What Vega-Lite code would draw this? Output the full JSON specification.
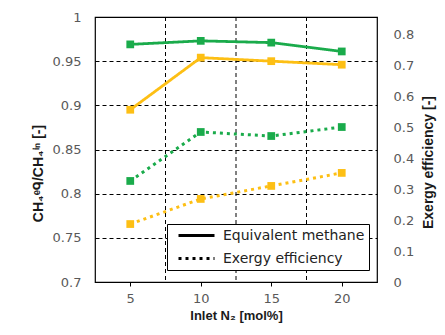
{
  "$schema": "https://vega.github.io/schema/vega-lite/v6.json",
  "width": 282,
  "height": 265,
  "autosize": {"type": "none"},
  "padding": {"left": 95, "top": 17, "right": 68, "bottom": 53},
  "background": "white",
  "config": {
    "font": "Liberation Sans",
    "view": {"stroke": "black", "strokeWidth": 1.2},
    "axis": {"labelFont": "DejaVu Sans", "titleFont": "Liberation Sans", "labelColor": "#595959", "labelFontSize": 13, "titleFontSize": 12, "titleFontWeight": "bold", "titleColor": "#1a1a1a", "domain": false}
  },
  "datasets": {
    "main": [
      {"N2": 5, "value": 0.969, "case": "Case 1", "type": "Equivalent methane"},
      {"N2": 10, "value": 0.973, "case": "Case 1", "type": "Equivalent methane"},
      {"N2": 15, "value": 0.971, "case": "Case 1", "type": "Equivalent methane"},
      {"N2": 20, "value": 0.961, "case": "Case 1", "type": "Equivalent methane"},
      {"N2": 5, "value": 0.895, "case": "Case 2", "type": "Equivalent methane"},
      {"N2": 10, "value": 0.954, "case": "Case 2", "type": "Equivalent methane"},
      {"N2": 15, "value": 0.950, "case": "Case 2", "type": "Equivalent methane"},
      {"N2": 20, "value": 0.946, "case": "Case 2", "type": "Equivalent methane"},
      {"N2": 5, "value": 0.326, "case": "Case 1", "type": "Exergy efficiency"},
      {"N2": 10, "value": 0.484, "case": "Case 1", "type": "Exergy efficiency"},
      {"N2": 15, "value": 0.471, "case": "Case 1", "type": "Exergy efficiency"},
      {"N2": 20, "value": 0.500, "case": "Case 1", "type": "Exergy efficiency"},
      {"N2": 5, "value": 0.187, "case": "Case 2", "type": "Exergy efficiency"},
      {"N2": 10, "value": 0.268, "case": "Case 2", "type": "Exergy efficiency"},
      {"N2": 15, "value": 0.310, "case": "Case 2", "type": "Exergy efficiency"},
      {"N2": 20, "value": 0.352, "case": "Case 2", "type": "Exergy efficiency"}
    ],
    "vgrid": [{"x": 7.5}, {"x": 12.5}, {"x": 17.5}]
  },
  "layer": [
    {
      "data": {"name": "vgrid"},
      "mark": {"type": "rule", "color": "black", "strokeWidth": 1, "strokeDash": [4, 3]},
      "encoding": {
        "x": {"field": "x", "type": "quantitative", "scale": {"domain": [2.5, 22.5], "nice": false, "zero": false}}
      }
    },
    {
      "data": {"name": "main"},
      "transform": [{"filter": "datum.type === 'Equivalent methane'"}],
      "encoding": {
        "x": {"field": "N2", "type": "quantitative", "scale": {"domain": [2.5, 22.5], "nice": false, "zero": false},
              "axis": {"values": [5, 10, 15, 20], "title": "Inlet N₂ [mol%]", "grid": false, "ticks": true, "tickColor": "black", "tickSize": 4, "labelPadding": 6, "titlePadding": 4, "titleFontSize": 13}},
        "y": {"field": "value", "type": "quantitative", "scale": {"domain": [0.7, 1], "nice": false, "zero": false},
              "axis": {"orient": "left", "values": [0.7, 0.75, 0.8, 0.85, 0.9, 0.95, 1], "format": ".2~f", "title": "CH₄ᵉᑫ/CH₄ⁱⁿ [-]", "titleFontSize": 14, "grid": true, "gridColor": "black", "gridDash": [4, 3], "gridWidth": 1, "ticks": false, "labelPadding": 14, "titleX": -57, "titleY": 156, "titleAlign": "center", "titleBaseline": "middle", "titleAngle": 270}},
        "color": {"field": "case", "type": "nominal", "scale": {"domain": ["Case 1", "Case 2"], "range": ["#1aab4b", "#fdbf14"]}, "legend": null}
      },
      "layer": [
        {"mark": {"type": "line", "strokeWidth": 2.8}, "encoding": {"strokeDash": {"field": "type", "type": "nominal", "scale": {"domain": ["Equivalent methane", "Exergy efficiency"], "range": [[1, 0], [3, 4]]},
           "legend": {"title": null, "orient": "none", "legendX": 72, "legendY": 207, "direction": "vertical", "fillColor": "white", "strokeColor": "black", "padding": 4, "labelFontSize": 14, "labelFont": "DejaVu Sans", "labelColor": "#222222", "symbolType": "M0,0H6", "symbolSize": 144, "symbolStrokeWidth": 3, "symbolStrokeColor": "black", "rowPadding": 8, "labelOffset": 37, "cornerRadius": 0}}}},
        {"mark": {"type": "point", "shape": "square", "filled": true, "size": 60, "opacity": 1}}
      ]
    },
    {
      "data": {"name": "main"},
      "transform": [{"filter": "datum.type === 'Exergy efficiency'"}],
      "encoding": {
        "x": {"field": "N2", "type": "quantitative", "scale": {"domain": [2.5, 22.5], "nice": false, "zero": false}},
        "y": {"field": "value", "type": "quantitative", "scale": {"domain": [0, 0.855], "nice": false, "zero": false},
              "axis": {"orient": "right", "values": [0, 0.1, 0.2, 0.3, 0.4, 0.5, 0.6, 0.7, 0.8], "format": ".1~f", "title": "Exergy efficiency [-]", "titleFontSize": 14, "titleAngle": 270, "titleX": 51, "titleY": 145, "titleAlign": "center", "titleBaseline": "middle", "grid": false, "ticks": false, "labelPadding": 16}},
        "color": {"field": "case", "type": "nominal", "scale": {"domain": ["Case 1", "Case 2"], "range": ["#1aab4b", "#fdbf14"]}, "legend": null}
      },
      "layer": [
        {"mark": {"type": "line", "strokeWidth": 3}, "encoding": {"strokeDash": {"field": "type", "type": "nominal", "scale": {"domain": ["Equivalent methane", "Exergy efficiency"], "range": [[1, 0], [3, 4]]}}}},
        {"mark": {"type": "point", "shape": "square", "filled": true, "size": 60, "opacity": 1}}
      ]
    }
  ],
  "resolve": {"scale": {"y": "independent"}}
}
